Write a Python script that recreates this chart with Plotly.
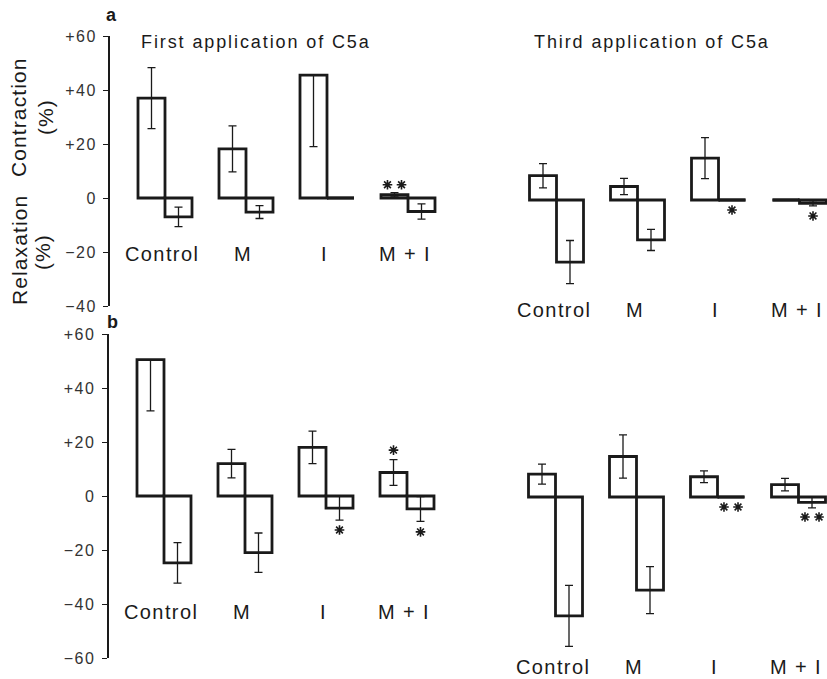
import plotly.graph_objects as go

W, H = 827, 679

# ---------------- data ----------------
groups = ["Control", "M", "I", "M + I"]

# a: First application of C5a
a_first_contraction = [37.0, 18.2, 45.5, 1.2]
a_first_contraction_err_up = [11.3, 8.5, 0.0, 0.8]
a_first_contraction_err_down = [11.3, 8.5, 26.5, 0.8]
a_first_relaxation = [-7.0, -5.2, 0.0, -5.0]
a_first_relaxation_err = [3.6, 2.4, 0.0, 2.8]

# a: Third application of C5a
a_third_contraction = [9.0, 5.0, 15.5, 0.0]
a_third_contraction_err = [4.5, 3.0, 7.6, 0.0]
a_third_relaxation = [-23.0, -14.8, 0.0, -1.2]
a_third_relaxation_err = [8.0, 3.9, 0.0, 1.0]

# b: First application of C5a
b_first_contraction = [50.5, 12.0, 18.0, 8.7]
b_first_contraction_err_up = [0.0, 5.3, 6.0, 4.8]
b_first_contraction_err_down = [19.0, 5.3, 6.0, 4.8]
b_first_relaxation = [-24.8, -21.0, -4.5, -4.8]
b_first_relaxation_err = [7.5, 7.3, 4.4, 4.6]

# b: Third application of C5a
b_third_contraction = [8.5, 15.0, 7.5, 4.6]
b_third_contraction_err = [3.7, 8.0, 2.2, 2.3]
b_third_relaxation = [-44.0, -34.5, 0.0, -2.0]
b_third_relaxation_err = [11.3, 8.7, 0.0, 2.0]

# significance marks: (panel, series, group index, y level, count)
significance = [
    ("a1", "contraction", 3, 4.9, 2),
    ("a2", "relaxation", 2, -3.7, 1),
    ("a2", "relaxation", 3, -5.9, 1),
    ("b1", "relaxation", 2, -12.6, 1),
    ("b1", "contraction", 3, 17.0, 1),
    ("b1", "relaxation", 3, -13.3, 1),
    ("b2", "relaxation", 2, -3.7, 2),
    ("b2", "relaxation", 3, -7.4, 2),
]

a_ticks = [60, 40, 20, 0, -20, -40]
a_ticktext = ["+60", "+40", "+20", "0", "\u221220", "\u221240"]
b_ticks = [60, 40, 20, 0, -20, -40, -60]
b_ticktext = ["+60", "+40", "+20", "0", "\u221220", "\u221240", "\u221260"]

titles = ["First application of C5a", "Third application of C5a"]

# ---------------- styling / layout helpers ----------------
FONT = "Liberation Sans, Arial, Helvetica, sans-serif"
INK = "#1a1a1a"
BAR_LW = 2.8
ERR_LW = 1.3
YSCALE = 2.7   # px per y unit
UNIT = 27.0    # px per x unit (bar width)


def sp(text, ls):
    return '<span style="letter-spacing:%spx">%s</span>' % (ls, text)


def px_x(p):
    return p / W


def px_y(p):
    return 1 - p / H


# panel geometry (pixels): x-domain, px of group-0 contraction centre, px of y=0, y range
panels = {
    "a1": dict(xd=(110, 460), x0=151.5, zero=198, yr=(-40, 60), label_y=-20.7, showy=True),
    "a2": dict(xd=(480, 827), x0=543.0, zero=200, yr=(-45, 60), label_y=-40.7, showy=False),
    "b1": dict(xd=(108.5, 460), x0=150.5, zero=496, yr=(-60, 60), label_y=-43.0, showy=True),
    "b2": dict(xd=(480, 827), x0=542.0, zero=497, yr=(-67, 60), label_y=-63.0, showy=False),
}

series = {
    "a1": (a_first_contraction, a_first_contraction_err_up, a_first_contraction_err_down,
           a_first_relaxation, a_first_relaxation_err, a_first_relaxation_err),
    "a2": (a_third_contraction, a_third_contraction_err, a_third_contraction_err,
           a_third_relaxation, a_third_relaxation_err, a_third_relaxation_err),
    "b1": (b_first_contraction, b_first_contraction_err_up, b_first_contraction_err_down,
           b_first_relaxation, b_first_relaxation_err, b_first_relaxation_err),
    "b2": (b_third_contraction, b_third_contraction_err, b_third_contraction_err,
           b_third_relaxation, b_third_relaxation_err, b_third_relaxation_err),
}

fig = go.Figure()
layout_axes = {}
annotations = []

xc = [3 * i for i in range(len(groups))]       # contraction bar positions
xr = [3 * i + 1 for i in range(len(groups))]   # relaxation bar positions

for k, (name, g) in enumerate(panels.items()):
    idx = "" if k == 0 else str(k + 1)
    xa, ya = "x" + idx, "y" + idx
    cv, cu, cd, rv, ru, rd = series[name]

    for xs, vals, up, dn in ((xc, cv, cu, cd), (xr, rv, ru, rd)):
        fig.add_trace(go.Bar(
            x=xs, y=vals, width=1.0, xaxis=xa, yaxis=ya,
            marker=dict(color="white", line=dict(color=INK, width=BAR_LW)),
            error_y=dict(type="data", symmetric=False, array=up, arrayminus=dn,
                         color=INK, thickness=ERR_LW, width=4),
            showlegend=False, hoverinfo="skip"))
        # zero-valued bars are drawn as a flat line on the baseline
        lx, ly = [], []
        for x, v in zip(xs, vals):
            if v == 0:
                lx += [x - 0.5, x + 0.5, None]
                ly += [0, 0, None]
        if lx:
            fig.add_trace(go.Scatter(x=lx, y=ly, mode="lines", xaxis=xa, yaxis=ya,
                                     line=dict(color=INK, width=BAR_LW),
                                     showlegend=False, hoverinfo="skip"))

    # significance asterisks
    sx, sy = [], []
    for (pn, s, gi, yv, n) in significance:
        if pn != name:
            continue
        base = (xc if s == "contraction" else xr)[gi]
        offs = [0.0] if n == 1 else [-0.26, 0.26]
        for o in offs:
            sx.append(base + o)
            sy.append(yv)
    if sx:
        fig.add_trace(go.Scatter(x=sx, y=sy, mode="markers", xaxis=xa, yaxis=ya,
                                 marker=dict(symbol="asterisk-open", size=8, color=INK,
                                             line=dict(color=INK, width=1.6)),
                                 showlegend=False, hoverinfo="skip"))

    xr0 = (g["xd"][0] - g["x0"]) / UNIT
    xr1 = (g["xd"][1] - g["x0"]) / UNIT
    ybot = g["zero"] - g["yr"][0] * YSCALE
    ytop = g["zero"] - g["yr"][1] * YSCALE
    xkey = "xaxis" + idx
    ykey = "yaxis" + idx
    layout_axes[xkey] = dict(domain=[px_x(g["xd"][0]), px_x(g["xd"][1])], range=[xr0, xr1],
                             anchor=ya, showline=False, showgrid=False, zeroline=False,
                             showticklabels=False, ticks="", fixedrange=True,
                             automargin=False)
    yax = dict(domain=[px_y(ybot), px_y(ytop)], range=list(g["yr"]),
               anchor=xa, showgrid=False, zeroline=False, fixedrange=True,
               automargin=False)
    if g["showy"]:
        tv = a_ticks if name.startswith("a") else b_ticks
        tt = a_ticktext if name.startswith("a") else b_ticktext
        yax.update(showline=True, linecolor=INK, linewidth=1.8, ticks="outside",
                   ticklen=5, tickwidth=1.4, tickcolor=INK, tickvals=tv,
                   ticktext=[sp(t, 1.5) for t in tt],
                   tickfont=dict(family=FONT, size=16, color="#333"), ticklabelstandoff=3)
    else:
        yax.update(showline=False, showticklabels=False, ticks="")
    layout_axes[ykey] = yax

    # category labels
    for i, gname in enumerate(groups):
        annotations.append(dict(x=3 * i + 0.4, y=g["label_y"], xref=xa, yref=ya,
                                text=sp(gname, 1.4), showarrow=False,
                                font=dict(family=FONT, size=20, color=INK),
                                xanchor="center", yanchor="middle"))

# panel titles
for t, cx in zip(titles, (256, 651.5)):
    annotations.append(dict(x=px_x(cx), y=px_y(42), xref="paper", yref="paper",
                            text=sp(t, 1.9), showarrow=False,
                            xanchor="center", yanchor="middle",
                            font=dict(family=FONT, size=18, color=INK)))
# panel letters
for t, cx, cy in (("a", 111, 15), ("b", 112, 322)):
    annotations.append(dict(x=px_x(cx), y=px_y(cy), xref="paper", yref="paper",
                            text="<b>%s</b>" % t, showarrow=False,
                            xanchor="center", yanchor="middle",
                            font=dict(family=FONT, size=18, color=INK)))
# y-axis titles
for txt, xp, yp in (("Contraction", 18, 117), ("(%)", 45, 117),
                    ("Relaxation", 19, 250), ("(%)", 42, 252)):
    annotations.append(dict(x=px_x(xp), y=px_y(yp), xref="paper", yref="paper",
                            text=sp(txt, 1.1), showarrow=False, textangle=-90,
                            font=dict(family=FONT, size=21, color=INK),
                            xanchor="center", yanchor="middle"))

fig.update_layout(
    width=W, height=H, margin=dict(l=0, r=0, t=0, b=0, pad=0, autoexpand=False),
    paper_bgcolor="white", plot_bgcolor="rgba(0,0,0,0)",
    barmode="overlay", showlegend=False,
    annotations=annotations, **layout_axes,
)

fig.write_html("out.html")
